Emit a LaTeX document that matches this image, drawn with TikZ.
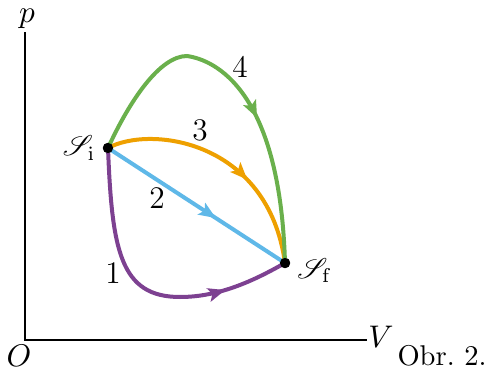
\documentclass[tikz,border=0pt]{standalone}
\usepackage{mathrsfs}
\usetikzlibrary{arrows.meta,positioning,decorations.markings}

\definecolor{pathgreen}{RGB}{106,176,76}
\definecolor{pathorange}{RGB}{238,160,0}
\definecolor{pathblue}{RGB}{95,184,232}
\definecolor{pathpurple}{RGB}{125,65,145}

\tikzset{
  state/.style={circle,fill=black,inner sep=0pt,minimum size=3.6pt},
  process/.style={line width=1.4pt},
  axislabel/.style={font=\fontsize{11}{13}\selectfont},
  statelabel/.style={font=\fontsize{10}{12}\selectfont},
  pathlabel/.style={font=\fontsize{11}{13}\selectfont},
  midarrow/.style={postaction=decorate,decoration={markings,
    mark=at position #1 with {\arrow{Stealth[length=6pt,width=4.8pt,inset=1.3pt]}}}}
}

\begin{document}
\begin{tikzpicture}[x=0.35pt, y=-0.35pt, line width=0.7pt]
  \useasboundingbox (0,0) rectangle (485,369);
  % axes
  \coordinate (o) at (25,340);
  \coordinate (ptop) at (25,32);
  \coordinate (vend) at (367,340);
  \draw (ptop) -- (o) -- (vend);
  \node[axislabel] (plab) at (27,19) {$p$};
  \node[axislabel] (vlab) at (381,337) {$V$};
  \node[axislabel] (olab) at (19,356) {$O$};
  \node[font=\fontsize{10}{12}\selectfont] (obr) at (442,356) {Obr.\ 2.};
  % states
  \node[state] (si) at (108,148) {};
  \node[state] (sf) at (285,263) {};
  \node[statelabel,left=-1.5pt of si] (silab) {$\mathscr{S}_{\mathrm{i}}$};
  \node[statelabel,right=-1.5pt of sf, yshift=-2.5pt] (sflab) {$\mathscr{S}_{\mathrm{f}}$};
  % processes
  \draw[process,pathpurple,midarrow=0.78] (si.center) .. controls (112,250) and (120,297) .. (180,297)
    .. controls (220,297) and (255,280) .. (sf.center);
  \draw[process,pathblue,midarrow=0.61] (si.center) -- (sf.center);
  \draw[process,pathorange,midarrow=0.62] (si.center) .. controls (150,125) and (268,140) .. (sf.center);
  \draw[process,pathgreen,midarrow=0.6] (si.center) .. controls (130,100) and (160,56) .. (187,56)
    .. controls (215,60) and (280,90) .. (sf.center);
  \node[state] at (si) {};
  \node[state] at (sf) {};
  \node[pathlabel] (n1) at (113,273) {1};
  \node[pathlabel] (n2) at (157,198) {2};
  \node[pathlabel] (n3) at (200,130) {3};
  \node[pathlabel] (n4) at (240,67) {4};
\end{tikzpicture}
\end{document}
